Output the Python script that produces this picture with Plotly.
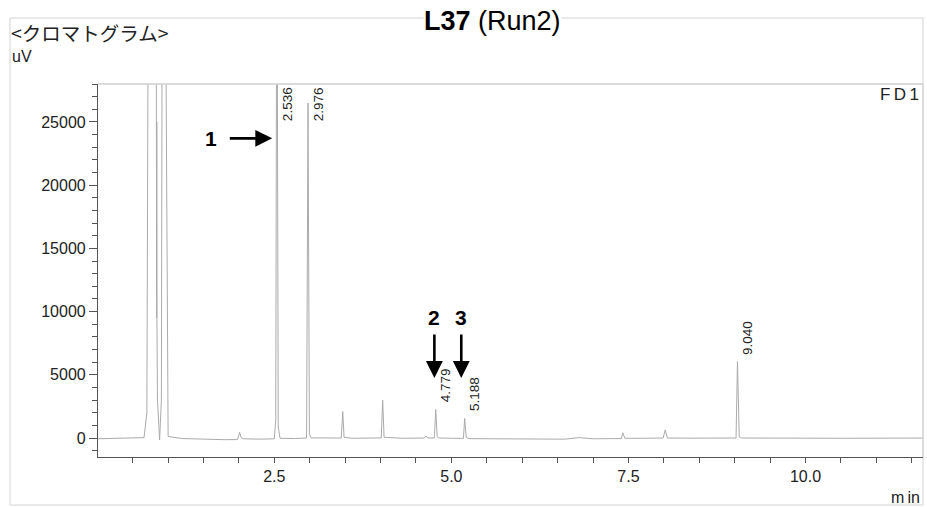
import plotly.graph_objects as go

# Chromatogram trace (time in min, detector signal in uV)
time_min = [
    0.00, 0.30, 0.55, 0.66, 0.700, 0.725, 0.80, 0.830, 0.838, 0.840, 0.842, 0.850, 0.870,
    0.880, 0.905, 0.920, 0.955, 0.990, 1.00, 1.20, 1.50, 1.80, 1.98, 2.010, 2.030, 2.060,
    2.30, 2.50, 2.520, 2.536, 2.555, 2.580, 2.80, 2.955, 2.976, 2.995, 3.020, 3.30, 3.445,
    3.466, 3.485, 3.60, 3.90, 4.010, 4.030, 4.050, 4.30, 4.620, 4.640, 4.670, 4.760, 4.779,
    4.800, 4.830, 5.000, 5.170, 5.188, 5.210, 5.250, 5.60, 6.00, 6.30, 6.60, 6.80, 7.00,
    7.20, 7.400, 7.420, 7.450, 7.70, 7.990, 8.020, 8.050, 8.40, 8.80, 9.020, 9.040, 9.065,
    9.100, 9.50, 10.00, 10.50, 11.00, 11.70,
]
signal_uv = [
    -60, -40, 0, 30, 2000, 45000, 45000, 45000, 9500, 25000, 9400, 3000, -150,
    -150, 3000, 45000, 45000, 500, 120, -40, -100, -130, -120, 450, 50, -60,
    -90, -60, 1500, 45000, 900, -20, -40, 0, 26500, 300, 10, -30, 0,
    2100, 60, -20, -10, 10, 3000, 60, -20, 0, 160, 0, 0, 2250,
    100, 0, -20, -30, 1550, 50, -50, -70, -110, -130, -90, 30, -60,
    -50, -40, 420, -20, -20, 0, 640, 0, -10, 0, 0, 6050, 100,
    0, -30, -10, -20, -10, 0,
]

# Retention times printed beside the integrated peaks
labelled_peaks = [2.536, 2.976, 4.779, 5.188, 9.040]

# Arrow call-outs: (label, tip time, tip signal, tail time, tail signal, label time, label signal)
callouts = [
    ("1", 2.47, 23700, 1.85, 23700, 1.60, 23700),
    ("2", 4.76, 4750, 4.76, 8300, 4.76, 9500),
    ("3", 5.14, 4750, 5.14, 8300, 5.14, 9500),
]

x_ticks = [2.5, 5.0, 7.5, 10.0]
x_tick_text = ["2.5", "5.0", "7.5", "10.0"]
y_ticks = [0, 5000, 10000, 15000, 20000, 25000]
y_tick_text = ["0", "5000", "10000", "15000", "20000", "25000"]

W, H = 927, 507
L, R, T, B = 98, 4, 84, 50
PW, PH = W - L - R, H - T - B
X_RANGE = [0.01, 11.66]
Y_RANGE = [-1500, 28000]
Y_LABEL_CAP = 24500

FONT = "Liberation Sans, Arial, Helvetica, sans-serif"
INK = "#222222"


def paper_x(px):
    return (px - L) / PW


def paper_y(py):
    return (H - B - py) / PH


fig = go.Figure()
fig.add_trace(go.Scatter(
    x=time_min, y=signal_uv, mode="lines",
    line=dict(color="#ababab", width=1),
    hoverinfo="skip", showlegend=False,
))

annotations = []

# Retention-time labels, rotated and sitting just above each apex
for rt in labelled_peaks:
    apex = signal_uv[time_min.index(rt)]
    annotations.append(dict(
        x=rt, y=min(apex, Y_LABEL_CAP), xref="x", yref="y",
        text=f"{rt:.3f}", showarrow=False, textangle=-90,
        xanchor="center", yanchor="bottom", xshift=10, yshift=5,
        font=dict(family=FONT, size=13.5, color=INK),
    ))

# Numbered arrows
for name, tx, ty, ax_, ay_, lx, ly in callouts:
    annotations.append(dict(
        x=tx, y=ty, ax=ax_, ay=ay_, xref="x", yref="y", axref="x", ayref="y",
        text="", showarrow=True, arrowhead=2, arrowsize=1.3, arrowwidth=2.6,
        arrowcolor="black",
    ))
    annotations.append(dict(
        x=lx, y=ly, xref="x", yref="y", text=f"<b>{name}</b>", showarrow=False,
        xanchor="center", yanchor="middle",
        font=dict(family=FONT, size=21, color="black"),
    ))

# Page texts around the plot
annotations += [
    dict(x=paper_x(492), y=paper_y(21), xref="paper", yref="paper",
         text="<b>L37</b> (Run2)", showarrow=False, xanchor="center", yanchor="middle",
         bgcolor="white", borderpad=0,
         font=dict(family=FONT, size=27, color="black")),
    dict(x=paper_x(9), y=paper_y(33), xref="paper", yref="paper",
         text="<クロマトグラム>", showarrow=False, xanchor="left", yanchor="middle",
         font=dict(family="Noto Sans CJK JP, sans-serif", size=19.5, color=INK)),
    dict(x=paper_x(10), y=paper_y(57), xref="paper", yref="paper",
         text="uV", showarrow=False, xanchor="left", yanchor="middle",
         font=dict(family=FONT, size=16, color=INK)),
    dict(x=paper_x(921), y=paper_y(94), xref="paper", yref="paper",
         text="F\u2009D\u20091", showarrow=False, xanchor="right", yanchor="middle",
         font=dict(family=FONT, size=17, color=INK)),
    dict(x=paper_x(922), y=paper_y(497), xref="paper", yref="paper",
         text="m\u2009in", showarrow=False, xanchor="right", yanchor="middle",
         font=dict(family=FONT, size=16, color=INK)),
]

shapes = [
    # outer page frame
    dict(type="rect", xref="paper", yref="paper", layer="below",
         x0=paper_x(10), x1=paper_x(923), y0=paper_y(505), y1=paper_y(18),
         line=dict(color="#d4d4d4", width=1)),
    # light top and right edges of the plot frame
    dict(type="line", xref="paper", yref="paper", x0=0, x1=1, y0=1, y1=1,
         line=dict(color="#cfcfcf", width=1.5)),
    dict(type="line", xref="paper", yref="paper", x0=1, x1=1, y0=0, y1=1,
         line=dict(color="#cfcfcf", width=1)),
]

axis_common = dict(
    showgrid=False, zeroline=False, showline=True, linecolor="#555555", linewidth=1.2,
    ticks="outside", tickcolor="#555555", tickwidth=1,
    tickfont=dict(family=FONT, size=16, color=INK),
)

fig.update_layout(
    width=W, height=H,
    margin=dict(l=L, r=R, t=T, b=B, pad=0),
    paper_bgcolor="white", plot_bgcolor="white",
    showlegend=False,
    annotations=annotations, shapes=shapes,
    xaxis=dict(
        range=X_RANGE, tickvals=x_ticks, ticktext=x_tick_text, ticklen=5,
        minor=dict(dtick=0.5, tick0=0, ticks="outside", ticklen=5, tickcolor="#555555"),
        **axis_common,
    ),
    yaxis=dict(
        range=Y_RANGE, tickvals=y_ticks, ticktext=y_tick_text, ticklen=8,
        minor=dict(dtick=1000, tick0=0, ticks="outside", ticklen=5, tickcolor="#555555"),
        **axis_common,
    ),
)

fig.write_html("out.html")
